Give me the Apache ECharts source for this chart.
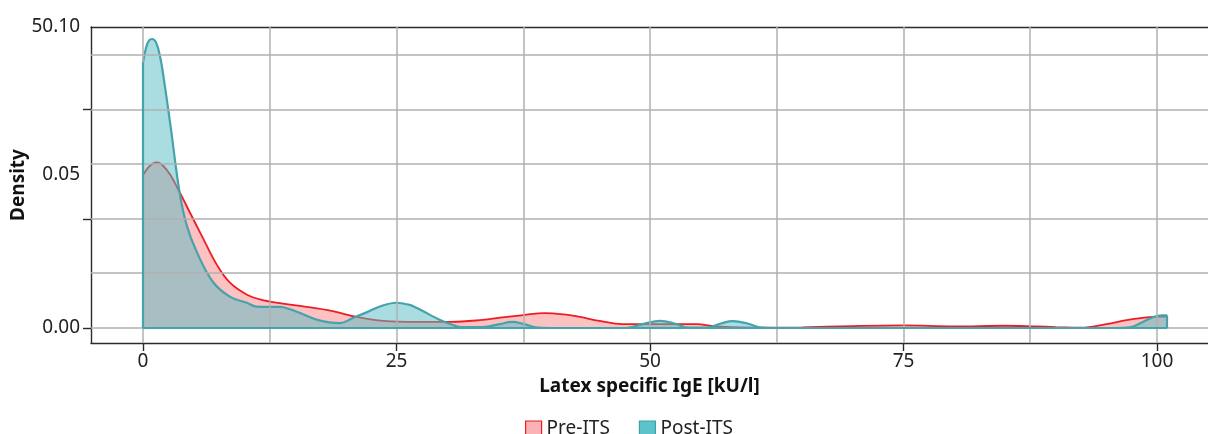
<!DOCTYPE html>
<html>
<head>
<meta charset="utf-8">
<script src="https://cdn.jsdelivr.net/npm/echarts@6/dist/echarts.min.js"></script>
<style>
html,body{margin:0;padding:0;background:#fff;}
#chart{width:1208px;height:434px;}
</style>
</head>
<body>
<div id="chart"></div>
<script>
// ---- data ----
const seriesNames = ["Pre-ITS", "Post-ITS"];

const preX = [0, 0.5, 1.0, 1.4, 2.0, 2.7, 3.6, 4.6, 5.9, 7.3, 8.6, 10.3, 11.8, 13.5, 15.5, 18.7, 21.1, 23.7, 27, 30.3, 33.5, 35.2, 37.5, 39.6, 41.5, 43.1, 45, 47.3, 50.3, 54.6, 56.2, 58, 62, 65, 70, 75, 80, 85, 88, 90, 92.5, 95, 97, 98.6, 100, 101];
const preD = [0.0472, 0.0495, 0.0508, 0.0511, 0.0500, 0.0472, 0.0420, 0.0358, 0.0278, 0.0194, 0.0139, 0.0102, 0.0086, 0.0077, 0.0068, 0.0052, 0.0034, 0.0022, 0.0019, 0.0019, 0.0025, 0.0032, 0.0040, 0.0046, 0.0042, 0.0034, 0.0022, 0.0012, 0.0012, 0.0012, 0.0006, 0.0003, 0.0001, 0.0002, 0.0006, 0.0008, 0.0005, 0.0007, 0.0005, 0.0003, 0.0001, 0.0012, 0.0024, 0.0031, 0.0035, 0.0035];

const postX = [0, 0.3, 0.6, 0.9, 1.3, 1.7, 2.0, 2.7, 3.6, 4.3, 5.3, 6.9, 8.6, 10.3, 11.2, 12.5, 13.5, 14.5, 15.5, 17.2, 19.4, 20.7, 22.1, 23.5, 25, 26.2, 27, 28.2, 29.3, 30.5, 31.3, 33.5, 35.2, 36.4, 37.6, 38.9, 40, 47.5, 49.3, 51, 52.5, 53.8, 55.6, 57, 58.2, 59.6, 61, 62, 96, 97.3, 98.5, 99.5, 100.5, 101];
const postD = [0.0820, 0.0865, 0.0888, 0.0892, 0.0880, 0.0835, 0.0780, 0.0627, 0.0420, 0.0318, 0.0235, 0.0142, 0.0096, 0.0077, 0.0066, 0.0065, 0.0065, 0.0058, 0.0046, 0.0025, 0.0015, 0.0031, 0.0049, 0.0068, 0.0078, 0.0072, 0.0062, 0.0042, 0.0025, 0.0010, 0.0003, 0.0003, 0.0012, 0.0019, 0.0012, 0.0001, 0, 0, 0.0012, 0.0022, 0.0013, 0.0001, 0.0001, 0.0014, 0.0021, 0.0014, 0.0001, 0, 0, 0.0002, 0.0017, 0.0032, 0.0039, 0.0039];

const xTickValues = [0, 25, 50, 75, 100];
const xGridValues = [0, 12.5, 25, 37.5, 50, 62.5, 75, 87.5, 100];
const yGridValues = [0, 0.0169, 0.0337, 0.0506, 0.0674, 0.0843];
const yTickValues = [0, 0.0337, 0.0674];
const yLabelValues = [0, 0.0472, 0.0929];
const yLabelTexts = ["0.00", "0.05", "50.10"];

const xMin = -5.13, xMax = 105.03;
const yMin = -0.00463, yMax = 0.0929;

// ---- chart ----
const FONT = '"Noto Sans", "Open Sans", sans-serif';
const chart = echarts.init(document.getElementById('chart'), null, {renderer: 'canvas'});

function pairs(xs, ys) { return xs.map((x, i) => [x, ys[i]]); }

const lastPost = postX.length - 1;
const AXIS_COLOR = '#2b2b2b';

const option = {
  animation: false,
  backgroundColor: '#ffffff',
  textStyle: {fontFamily: FONT},
  grid: {left: 91, top: 27, right: 0, bottom: 91, show: false, containLabel: false, outerBoundsMode: 'none'},
  legend: {
    left: 520, top: 414,
    icon: 'rect', itemWidth: 16, itemHeight: 15, itemGap: 29,
    textStyle: {fontFamily: FONT, fontSize: 19, color: '#222'},
    data: [
      {name: seriesNames[0], itemStyle: {color: '#f9b3b4', borderColor: '#ee1c25', borderWidth: 1.2}},
      {name: seriesNames[1], itemStyle: {color: '#5cc3cb', borderColor: '#3fa0a8', borderWidth: 1.2}}
    ]
  },
  xAxis: [{
    type: 'value', min: xMin, max: xMax,
    name: 'Latex specific IgE [kU/l]', nameLocation: 'middle', nameGap: 34, nameMoveOverlap: false,
    nameTextStyle: {fontFamily: FONT, fontSize: 19, fontWeight: 'bold', color: '#111'},
    axisLine: {show: true, onZero: false, lineStyle: {color: AXIS_COLOR, width: 1.4}},
    axisTick: {show: true, customValues: xTickValues, length: 8, lineStyle: {color: AXIS_COLOR, width: 1.4}},
    axisLabel: {customValues: xTickValues, fontFamily: FONT, fontSize: 19, color: '#222', margin: 9},
    splitLine: {show: false}
  }, {
    type: 'value', min: xMin, max: xMax, position: 'top',
    axisLine: {show: true, onZero: false, lineStyle: {color: AXIS_COLOR, width: 1.4}},
    axisTick: {show: false}, axisLabel: {show: false}, splitLine: {show: false}
  }],
  yAxis: {
    type: 'value', min: yMin, max: yMax,
    name: 'Density', nameLocation: 'middle', nameGap: 63, nameRotate: 90, nameMoveOverlap: false,
    nameTextStyle: {fontFamily: FONT, fontSize: 19, fontWeight: 'bold', color: '#111'},
    axisLine: {show: true, onZero: false, lineStyle: {color: AXIS_COLOR, width: 1.4}},
    axisTick: {show: true, customValues: yTickValues, length: 8, lineStyle: {color: AXIS_COLOR, width: 1.4}},
    axisLabel: {
      customValues: yLabelValues, fontFamily: FONT, fontSize: 19, color: '#222', margin: 11,
      formatter: function (v) {
        let best = 0;
        yLabelValues.forEach((lv, i) => { if (Math.abs(lv - v) < Math.abs(yLabelValues[best] - v)) best = i; });
        return yLabelTexts[best];
      }
    },
    splitLine: {show: false}
  },
  series: [
    {
      name: 'grid', type: 'line', data: [], z: 1, silent: true,
      markLine: {
        silent: true, symbol: ['none', 'none'], animation: false, precision: 6,
        label: {show: false},
        lineStyle: {color: '#b0b0b0', width: 1.5, type: 'solid'},
        emphasis: {disabled: true},
        data: xGridValues.map(v => ({xAxis: v})).concat(yGridValues.map(v => ({yAxis: v})))
      }
    },
    {
      name: seriesNames[0], type: 'line', data: pairs(preX, preD), z: 3,
      smooth: 0.4, symbol: 'none',
      lineStyle: {color: '#ee1c25', width: 1.8},
      itemStyle: {color: '#ee1c25'},
      areaStyle: {color: 'rgba(245,40,40,0.29)', opacity: 1, origin: 0}
    },
    {
      name: seriesNames[1], type: 'line', data: pairs(postX, postD), z: 4,
      smooth: 0.4, symbol: 'none',
      lineStyle: {color: '#45a3ab', width: 2.2},
      itemStyle: {color: '#45a3ab'},
      areaStyle: {color: 'rgba(83,187,195,0.5)', opacity: 1, origin: 0},
      markLine: {
        silent: true, symbol: ['none', 'none'], animation: false, precision: 6,
        label: {show: false},
        lineStyle: {color: '#45a3ab', width: 2.2, type: 'solid'},
        emphasis: {disabled: true},
        data: [
          [{coord: [postX[0], 0]}, {coord: [postX[0], postD[0]]}],
          [{coord: [postX[0], 0]}, {coord: [postX[lastPost], 0]}],
          [{coord: [postX[lastPost], 0]}, {coord: [postX[lastPost], postD[lastPost]]}]
        ]
      }
    }
  ]
};
chart.setOption(option);
</script>
</body>
</html>
